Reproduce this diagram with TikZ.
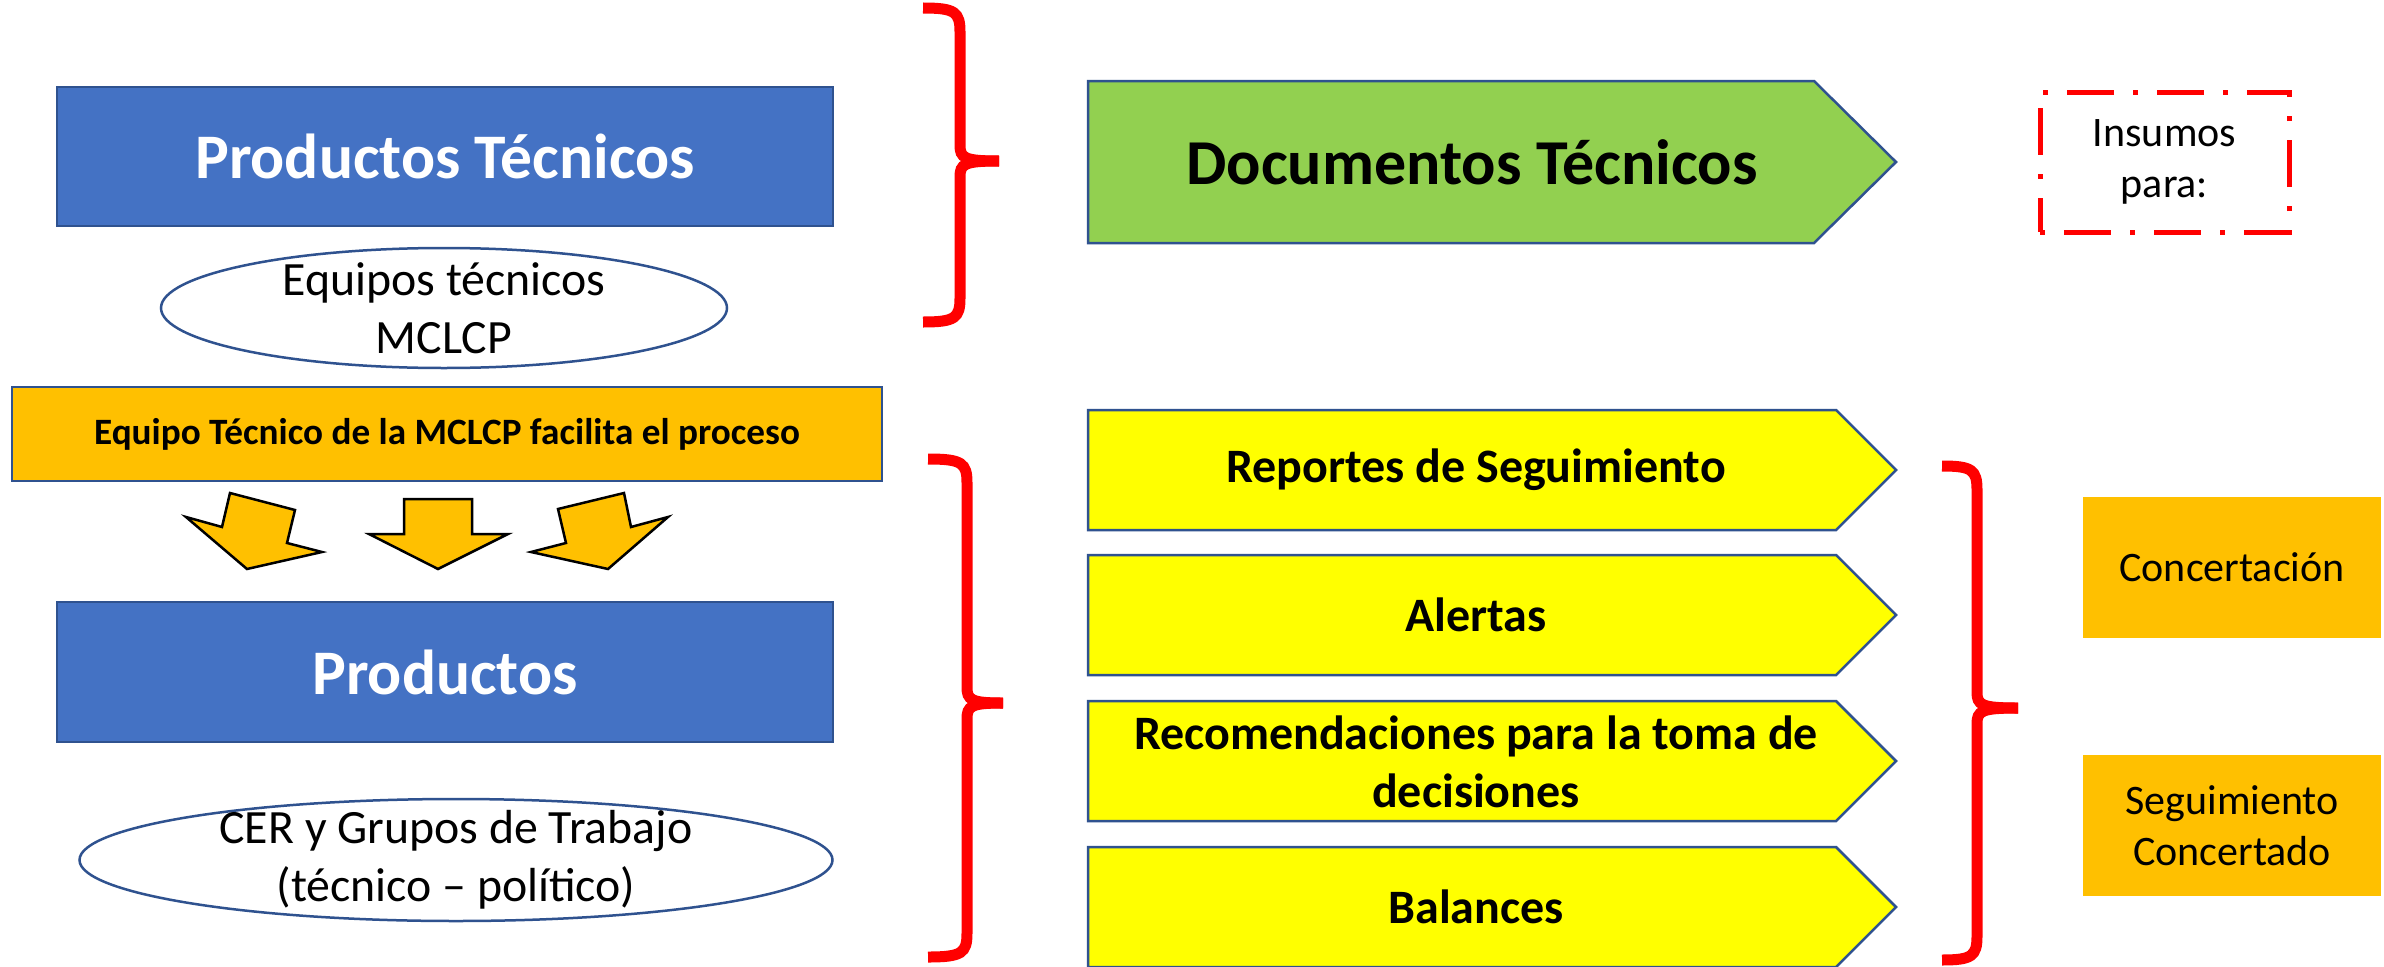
\documentclass[tikz,border=0pt]{standalone}
\usepackage{fontspec}
\setmainfont{Carlito}
\usetikzlibrary{shapes.geometric}
\definecolor{pblue}{HTML}{4472C4}
\definecolor{pborder}{HTML}{2F528F}
\definecolor{pgreen}{HTML}{92D050}
\definecolor{porange}{HTML}{FFC000}
\definecolor{pyellow}{HTML}{FFFF00}
\definecolor{pred}{HTML}{FF0000}
\tikzset{
  bluebox/.style={draw=pborder, fill=pblue, line width=2.5pt, text=white,
    font=\fontsize{63.5}{76}\selectfont\bfseries, minimum width=776pt, minimum height=139pt, inner sep=0pt},
  facbox/.style={draw=pborder, fill=porange, line width=2.5pt,
    font=\fontsize{37.2}{45}\selectfont\bfseries, minimum width=870pt, minimum height=94pt, inner sep=0pt},
  oval/.style={ellipse, draw=pborder, fill=white, line width=2.5pt, inner sep=0pt},
  ovaltext/.style={font=\fontsize{47.8}{58}\selectfont, align=center, inner sep=0pt},
  pent/.style={draw=pborder, line width=2.5pt, line join=miter},
  penttext/.style={font=\fontsize{48}{58}\selectfont\bfseries, align=center, inner sep=0pt},
  bigarrow/.style={draw=black, fill=porange, line width=2.5pt, line join=miter},
  redbrace/.style={draw=pred, line width=11pt, line cap=butt},
  orbox/.style={fill=porange, inner sep=0pt, minimum width=298pt, minimum height=141pt,
    font=\fontsize{42}{51}\selectfont, align=center},
  insbox/.style={draw=pred, line width=5pt, dash pattern=on 47pt off 19pt on 5pt off 19pt,
    dash phase=66pt, minimum width=249pt, minimum height=140pt, inner sep=0pt,
    font=\fontsize{42}{51}\selectfont, align=center}
}
\begin{document}
\begin{tikzpicture}[x=1pt,y=-1pt]
\useasboundingbox (0,0) rectangle (2384,966);
\fill[white] (0,0) rectangle (2384,966);

% left column
\node[bluebox] (pt) at (445,156.5) {Productos Técnicos};
\node[oval, minimum width=566pt, minimum height=120pt] (eqs) at (444,308) {};
\node[ovaltext] (eq) at (eqs) {Equipos técnicos\\MCLCP};
\node[facbox] (fac) at (447,434) {Equipo Técnico de la MCLCP facilita el proceso};
\draw[bigarrow] (186,517) -- (222,527) -- (230,493) -- (295,510) -- (287,543) -- (322,552) -- (247,569) -- cycle;
\draw[bigarrow] (369,534) -- (404,534) -- (404,499) -- (472,499) -- (472,534) -- (508,534) -- (438,569) -- cycle;
\draw[bigarrow] (668,517) -- (631,527) -- (624,493) -- (558,509) -- (566,543) -- (531,552) -- (608,569) -- cycle;
\node[bluebox, minimum height=140pt] (pr) at (445,672) {Productos};
\node[oval, minimum width=753pt, minimum height=122pt] (cers) at (456,860) {};
\node[ovaltext] (cer) at (cers) {CER y Grupos de Trabajo\\(técnico – político)};

% braces
\draw[redbrace] (923,8) .. controls (955,8) and (960,12) .. (960,32) -- (960,145) .. controls (960,158) and (964,161) .. (999,161);
\draw[redbrace] (999,161) .. controls (964,161) and (960,164) .. (960,177) -- (960,298) .. controls (960,318) and (955,322) .. (923,322);

\draw[redbrace] (928,459) .. controls (962,459) and (967,463) .. (967,483) -- (967,687) .. controls (967,700) and (971,703) .. (1003,703);
\draw[redbrace] (1003,703) .. controls (971,703) and (967,706) .. (967,719) -- (967,933) .. controls (967,953) and (962,957) .. (928,957);

\draw[redbrace] (1942,466) .. controls (1972,466) and (1977,470) .. (1977,490) -- (1977,692) .. controls (1977,705) and (1981,708) .. (2018,708);
\draw[redbrace] (2018,708) .. controls (1981,708) and (1977,711) .. (1977,724) -- (1977,936) .. controls (1977,956) and (1972,960) .. (1942,960);

% green pentagon
\draw[pent, fill=pgreen] (1088,81) -- (1814,81) -- (1896,162) -- (1814,243) -- (1088,243) -- cycle;
\node[penttext, font=\fontsize{64}{77}\selectfont\bfseries] (doc) at (1472,162) {Documentos Técnicos};

% yellow pentagons
\draw[pent, fill=pyellow] (1088,410) -- (1836,410) -- (1896,470) -- (1836,530) -- (1088,530) -- cycle;
\node[penttext] (rep) at (1476,470) {Reportes de Seguimiento};
\draw[pent, fill=pyellow] (1088,555) -- (1836,555) -- (1896,615) -- (1836,675) -- (1088,675) -- cycle;
\node[penttext] (ale) at (1476,615) {Alertas};
\draw[pent, fill=pyellow] (1088,701) -- (1836,701) -- (1896,761) -- (1836,821) -- (1088,821) -- cycle;
\node[penttext] (rec) at (1476,762) {Recomendaciones para la toma de\\decisiones};
\draw[pent, fill=pyellow] (1088,847) -- (1836,847) -- (1896,907) -- (1836,967) -- (1088,967) -- cycle;
\node[penttext] (bal) at (1476,907) {Balances};

% right boxes
\node[insbox] (ins) at (2164.5,162) {Insumos\\para:};
\node[orbox] (con) at (2232,567.5) {Concertación};
\node[orbox] (seg) at (2232,825.5) {Seguimiento\\Concertado};
\end{tikzpicture}
\end{document}
